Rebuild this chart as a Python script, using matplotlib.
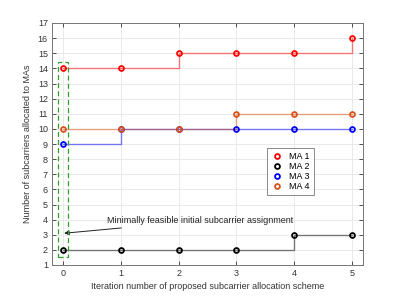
import matplotlib
matplotlib.use("Agg")
import matplotlib.pyplot as plt
from matplotlib.patches import Rectangle

iterations = [0, 1, 2, 3, 4, 5]
ma1 = [14, 14, 15, 15, 15, 16]
ma2 = [2, 2, 2, 2, 3, 3]
ma3 = [9, 10, 10, 10, 10, 10]
ma4 = [10, 10, 10, 11, 11, 11]
labels = ["MA 1", "MA 2", "MA 3", "MA 4"]
colors = ["#FF0000", "#000000", "#0000FF", "#D95319"]
series = [ma1, ma2, ma3, ma4]

plt.rcParams['font.family'] = ['Liberation Sans', 'DejaVu Sans']
fig = plt.figure(figsize=(4.01, 2.98), dpi=100)
ax = fig.add_axes([52/401, 1-265/298, 311/401, 242/298])

handles = []
for y, c, lab in zip(series, colors, labels):
    ax.step(iterations, y, where='post', color=c, alpha=0.5, lw=1.0, zorder=2)
    h, = ax.plot(iterations, y, 'o', mfc='none', mec=c, mew=1.3, ms=3.5,
                 linestyle='none', label=lab, zorder=3)
    handles.append(h)

ax.add_patch(Rectangle((-0.09, 1.55), 0.18, 12.85, fill=False,
                       edgecolor='#2CA02C', ls=(0, (4, 2.5)), lw=0.9, zorder=4))

ax.annotate("Minimally feasible initial subcarrier assignment",
            xy=(0.02, 3.1), xytext=(0.76, 3.93), fontsize=6.5, color='#222222',
            va='center', ha='left',
            arrowprops=dict(arrowstyle='-|>', color='#222222', lw=0.7,
                            mutation_scale=7, shrinkA=0, shrinkB=0))

ax.set_xlim(-0.19, 5.19)
ax.set_ylim(1, 17)
ax.set_xticks(iterations)
ax.set_yticks(range(1, 18))
ax.tick_params(direction='in', top=True, right=True, labelsize=6.5,
               length=3, width=0.6, colors='#333333', pad=3)
ax.grid(True, color='#e6e6e6', lw=0.6)
ax.set_axisbelow(True)
for s in ax.spines.values():
    s.set_color('#777777')
    s.set_linewidth(0.7)

ax.set_xlabel("Iteration number of proposed subcarrier allocation scheme",
              fontsize=6.5, color='#333333', labelpad=3)
ax.set_ylabel("Number of subcarriers allocated to MAs", fontsize=6.5,
              color='#333333', labelpad=4)

leg = ax.legend(handles=handles, loc='upper left', bbox_to_anchor=(0.691, 0.483),
                borderaxespad=0, fontsize=6.5, frameon=True, fancybox=False,
                borderpad=0.4, handletextpad=0.7, handlelength=1.4,
                labelspacing=0.12)
leg.get_frame().set_edgecolor('#555555')
leg.get_frame().set_linewidth(0.6)

fig.savefig("out.png", dpi=100)
